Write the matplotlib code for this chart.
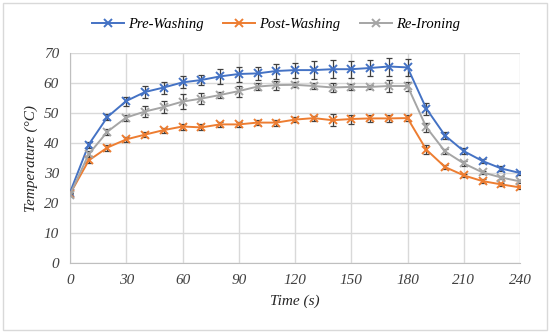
import matplotlib
matplotlib.use("Agg")
import matplotlib.pyplot as plt
from matplotlib.patches import Rectangle

time_s = [0, 10, 20, 30, 40, 50, 60, 70, 80, 90, 100, 110, 120, 130, 140, 150, 160, 170, 180, 190, 200, 210, 220, 230, 240]

pre_washing = [23.5, 39.5, 48.7, 54.0, 57.0, 58.5, 60.2, 61.0, 62.2, 63.0, 63.2, 64.0, 64.3, 64.3, 64.6, 64.6, 65.0, 65.5, 65.2, 51.5, 42.5, 37.3, 34.0, 31.5, 30.0]
pre_err = [0.5, 1.0, 1.0, 1.5, 2.0, 2.0, 2.0, 1.7, 2.5, 2.5, 2.3, 2.5, 2.5, 3.0, 3.0, 2.8, 2.7, 3.0, 2.7, 2.0, 1.3, 1.0, 0.8, 0.7, 0.7]

post_washing = [23.0, 34.2, 38.5, 41.2, 42.8, 44.3, 45.5, 45.2, 46.2, 46.2, 46.8, 46.8, 47.8, 48.3, 47.6, 48.0, 48.2, 48.2, 48.3, 37.8, 32.0, 29.2, 27.3, 26.2, 25.2]
post_err = [0.5, 1.0, 1.0, 0.8, 0.8, 0.8, 1.0, 1.0, 0.8, 0.8, 0.8, 1.0, 0.8, 0.8, 2.0, 1.5, 1.2, 1.2, 1.0, 1.5, 0.6, 0.6, 0.6, 0.6, 0.6]

re_ironing = [22.8, 36.3, 43.8, 48.5, 50.5, 52.0, 53.8, 54.8, 56.0, 57.3, 58.8, 59.3, 59.4, 59.0, 58.5, 58.7, 58.7, 59.0, 59.0, 45.3, 37.2, 33.2, 30.2, 28.5, 27.2]
re_err = [0.5, 1.0, 1.0, 1.0, 1.8, 2.0, 2.5, 1.8, 1.0, 1.8, 1.2, 1.5, 0.8, 1.0, 1.5, 1.0, 0.8, 2.0, 1.5, 1.5, 0.7, 0.7, 0.6, 0.6, 0.6]

series = [
    ("Pre-Washing", pre_washing, pre_err, "#4472C4"),
    ("Post-Washing", post_washing, post_err, "#ED7D31"),
    ("Re-Ironing", re_ironing, re_err, "#A5A5A5"),
]

xticks = [0, 30, 60, 90, 120, 150, 180, 210, 240]
yticks = [0, 10, 20, 30, 40, 50, 60, 70]

plt.rcParams['font.family'] = ['Liberation Serif', 'DejaVu Serif']
plt.rcParams['font.style'] = 'italic'

fig = plt.figure(figsize=(5.5, 3.33), dpi=100)
ax = fig.add_axes([70/550, 1-263/333, 450/550, 210/333])

handles = []
for name, vals, err, col in series:
    ax.errorbar(time_s, vals, yerr=err, fmt='none', ecolor='#404040', elinewidth=0.9,
                capsize=2.5, capthick=0.9, zorder=2)
    h, = ax.plot(time_s, vals, color=col, lw=1.4, marker='x', markersize=5.5,
                 markeredgewidth=1.4, label=name, zorder=3)
    handles.append(h)

ax.set_xlim(0, 240)
ax.set_ylim(0, 70)
ax.set_xticks(xticks)
ax.set_yticks(yticks)
ax.grid(True, color='#D9D9D9', lw=1.0)
ax.set_axisbelow(True)
for s in ['top', 'right']:
    ax.spines[s].set_visible(False)
for s in ['left', 'bottom']:
    ax.spines[s].set_color('#BFBFBF')
ax.tick_params(length=0, labelsize=11, colors='#404040', pad=8)
for lab in ax.get_xticklabels() + ax.get_yticklabels():
    lab.set_fontstyle('italic')
ax.set_xlabel('Time (s)', fontsize=11, style='italic', color='#262626', labelpad=5)
ax.set_ylabel('Temperature (°C)', fontsize=11, style='italic', color='#262626', labelpad=4)

fig.legend(handles=handles, loc='center', bbox_to_anchor=(276/550, 1-24/333), ncol=3,
           frameon=False, prop={'size': 10.5, 'style': 'italic'}, handlelength=2.2,
           columnspacing=1.3, handletextpad=0.3)

fig.patches.append(Rectangle((3/550, 3/333), 544/550, 327/333, transform=fig.transFigure,
                             fill=False, edgecolor='#D9D9D9', lw=1.0))

fig.savefig('out.png', dpi=100)
